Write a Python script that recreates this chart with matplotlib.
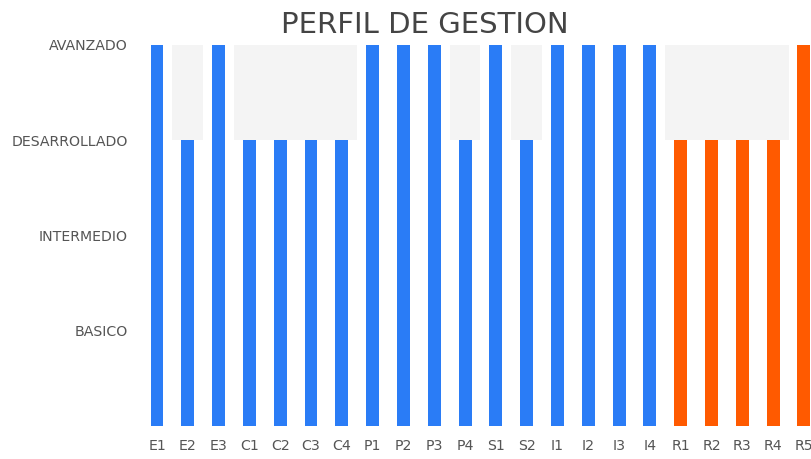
import matplotlib
matplotlib.use("Agg")
import matplotlib.pyplot as plt

categories = ["E1", "E2", "E3", "C1", "C2", "C3", "C4", "P1", "P2", "P3", "P4",
              "S1", "S2", "I1", "I2", "I3", "I4", "R1", "R2", "R3", "R4", "R5"]
values = [4, 3, 4, 3, 3, 3, 3, 4, 4, 4, 3, 4, 3, 4, 4, 4, 4, 3, 3, 3, 3, 4]
groups = ["A"] * 17 + ["R"] * 5
level_values = [1, 2, 3, 4]
level_labels = ["BASICO", "INTERMEDIO", "DESARROLLADO", "AVANZADO"]
max_level = 4

colors = {"A": "#2a7cf6", "R": "#ff5a00"}

plt.rcParams["font.family"] = ["DejaVu Sans"]

fig = plt.figure(figsize=(8.11, 4.59), dpi=100)
W, H = 811, 459
left_px, right_px = 141.6, 811
top_px, bottom_px = 45, 426
ax = fig.add_axes([left_px / W, (H - bottom_px) / H,
                   (right_px - left_px) / W, (bottom_px - top_px) / H])

x = list(range(len(categories)))
track = [max_level - v for v in values]
ax.bar(x, track, bottom=values, width=1.0, color="#f4f4f4", zorder=1)
ax.bar(x, values, width=0.42, color=[colors[g] for g in groups], zorder=2)

ax.set_xlim(-0.5, 21.23)
ax.set_ylim(0, max_level)
ax.set_yticks(level_values)
ax.set_yticklabels(level_labels)
ax.set_xticks(x)
ax.set_xticklabels(categories)
ax.tick_params(axis="both", length=0, labelsize=10.2, colors="#555555")
ax.tick_params(axis="y", pad=10)
ax.tick_params(axis="x", pad=9)
for s in ax.spines.values():
    s.set_visible(False)

fig.text(425 / W, 1 - 25 / H, "PERFIL DE GESTION", ha="center", va="center",
         fontsize=21, color="#444444")

fig.savefig("out.png", dpi=100)
